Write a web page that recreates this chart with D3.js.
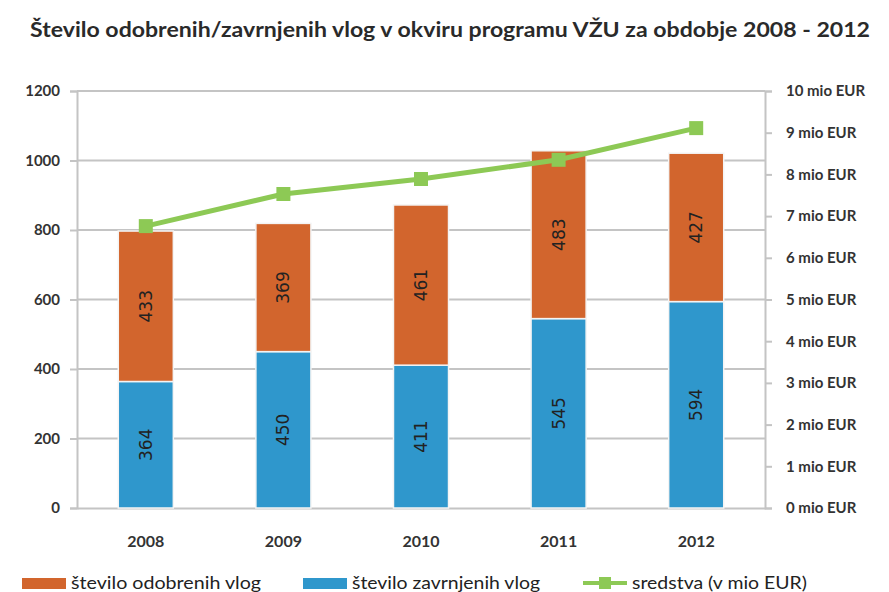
<!DOCTYPE html>
<html>
<head>
<meta charset="utf-8">
<script src="https://cdn.jsdelivr.net/npm/d3@7"></script>
<style>
  body { margin: 0; background: #fff; }
  text { font-family: Lato, "Open Sans", sans-serif; }
</style>
</head>
<body>
<div id="chart"></div>
<script>
var years = ["2008", "2009", "2010", "2011", "2012"];
var zavrnjene = [364, 450, 411, 545, 594];
var odobrene = [433, 369, 461, 483, 427];
var sredstva = [6.76, 7.53, 7.89, 8.35, 9.11];
var leftTicks = [0, 200, 400, 600, 800, 1000, 1200];
var rightTicks = [0, 1, 2, 3, 4, 5, 6, 7, 8, 9, 10];

var width = 889, height = 592;
var margin = {top: 91, right: 124, bottom: 84, left: 77};
var w = width - margin.left - margin.right;
var h = height - margin.top - margin.bottom;

var svg = d3.select("#chart").append("svg")
    .attr("width", width)
    .attr("height", height);

svg.append("text")
    .attr("x", 30)
    .attr("y", 37)
    .attr("textLength", 840)
    .attr("lengthAdjust", "spacingAndGlyphs")
    .style("font-size", "20px")
    .style("font-weight", "bold")
    .style("fill", "#2a2a2a")
    .text("Število odobrenih/zavrnjenih vlog v okviru programu VŽU za obdobje 2008 - 2012");

var g = svg.append("g")
    .attr("transform", "translate(" + margin.left + "," + margin.top + ")");

var x = d3.scaleBand().domain(years).range([0, w]).paddingInner(0.6).paddingOuter(0.3);
var y = d3.scaleLinear().domain([0, 1200]).range([h, 0]);
var y2 = d3.scaleLinear().domain([0, 10]).range([h, 0]);

// grid
g.selectAll(".grid").data(leftTicks.slice(1)).enter()
    .append("line")
    .attr("x1", 0).attr("x2", w)
    .attr("y1", function(d) { return y(d); })
    .attr("y2", function(d) { return y(d); })
    .style("stroke", "#c4c4c4")
    .style("stroke-width", 2);

// left axis
var yAxis = g.append("g")
    .call(d3.axisLeft(y).tickValues(leftTicks).tickSize(7).tickPadding(10).tickFormat(d3.format("d")));
yAxis.select(".domain").style("stroke", "#c4c4c4").style("stroke-width", 2);
yAxis.selectAll(".tick line").style("stroke", "#c4c4c4").style("stroke-width", 2);
yAxis.selectAll("text").style("font-size", "15px").style("font-weight", "bold").style("fill", "#333")
    .attr("x", -17);

// right axis
var y2Axis = g.append("g")
    .attr("transform", "translate(" + w + ",0)")
    .call(d3.axisRight(y2).tickValues(rightTicks).tickSize(7).tickPadding(14)
        .tickFormat(function(d) { return d + " mio EUR"; }));
y2Axis.select(".domain").style("stroke", "#c4c4c4").style("stroke-width", 2);
y2Axis.selectAll(".tick line").style("stroke", "#c4c4c4").style("stroke-width", 2);
y2Axis.selectAll("text").style("font-size", "15px").style("font-weight", "bold").style("fill", "#333");

// x axis baseline
var xAxis = g.append("g")
    .attr("transform", "translate(0," + h + ")")
    .call(d3.axisBottom(x).tickSize(0).tickPadding(28));
xAxis.select(".domain").style("stroke", "#c4c4c4").style("stroke-width", 2);
xAxis.selectAll("text").style("font-size", "16px").style("font-weight", "bold").style("fill", "#333");

// stacked bars
var rows = years.map(function(yr, i) { return {year: yr, zavrnjene: zavrnjene[i], odobrene: odobrene[i]}; });
var stack = d3.stack().keys(["zavrnjene", "odobrene"]);
var series = stack(rows);
var colors = {zavrnjene: "#2f97cc", odobrene: "#d2652d"};

var layers = g.selectAll(".layer").data(series).enter()
    .append("g")
    .attr("class", "layer")
    .style("fill", function(d) { return colors[d.key]; });

layers.selectAll("rect").data(function(d) { return d; }).enter()
    .append("rect")
    .attr("x", function(d) { return x(d.data.year); })
    .attr("width", x.bandwidth())
    .attr("y", function(d) { return y(d[1]); })
    .attr("height", function(d) { return y(d[0]) - y(d[1]); })
    .style("stroke", "#f4f4f4")
    .style("stroke-width", 1.5);

layers.selectAll(".lbl").data(function(d) { return d; }).enter()
    .append("text")
    .attr("class", "lbl")
    .attr("transform", function(d) {
        var cx = x(d.data.year) + x.bandwidth() / 2;
        var cy = (y(d[0]) + y(d[1])) / 2;
        return "translate(" + (cx + 6) + "," + cy + ") rotate(-90)";
    })
    .attr("text-anchor", "middle")
    .style("font-family", "'DejaVu Sans', sans-serif")
    .style("font-size", "17px")
    .style("fill", "#222")
    .text(function(d) { return d[1] - d[0]; });

// line
var line = d3.line()
    .x(function(d, i) { return x(years[i]) + x.bandwidth() / 2; })
    .y(function(d) { return y2(d); });

g.append("path")
    .datum(sredstva)
    .attr("d", line)
    .style("fill", "none")
    .style("stroke", "#8dc955")
    .style("stroke-width", 5);

g.selectAll(".pt").data(sredstva).enter()
    .append("rect")
    .attr("x", function(d, i) { return x(years[i]) + x.bandwidth() / 2 - 7; })
    .attr("y", function(d) { return y2(d) - 7; })
    .attr("width", 14).attr("height", 14)
    .style("fill", "#8dc955");

// legend
var legend = [
    {label: "število odobrenih vlog", color: "#d2652d", type: "rect", x: 22, len: 190},
    {label: "število zavrnjenih vlog", color: "#2f97cc", type: "rect", x: 303, len: 188},
    {label: "sredstva (v mio EUR)", color: "#8dc955", type: "line", x: 583, len: 175}
];
var lg = svg.append("g").attr("transform", "translate(0,583)");
legend.forEach(function(l) {
    if (l.type === "rect") {
        lg.append("rect").attr("x", l.x).attr("y", -5).attr("width", 44).attr("height", 11).style("fill", l.color);
    } else {
        lg.append("line").attr("x1", l.x).attr("x2", l.x + 44).attr("y1", 0).attr("y2", 0)
            .style("stroke", l.color).style("stroke-width", 4);
        lg.append("rect").attr("x", l.x + 16).attr("y", -6).attr("width", 12).attr("height", 12).style("fill", l.color);
    }
    lg.append("text").attr("x", l.x + 49).attr("y", 6)
        .attr("textLength", l.len)
        .attr("lengthAdjust", "spacingAndGlyphs")
        .style("font-size", "17px").style("fill", "#222")
        .text(l.label);
});
</script>
</body>
</html>
